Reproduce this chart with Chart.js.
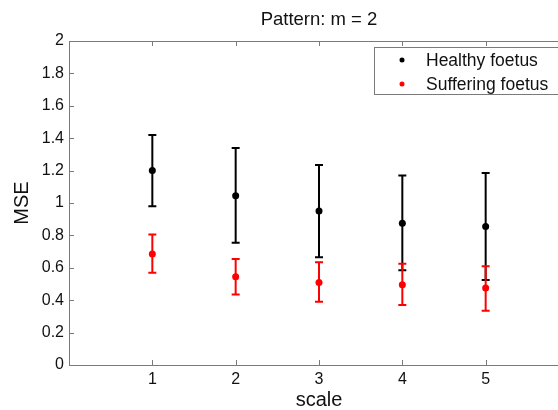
<!DOCTYPE html>
<html>
<head>
<meta charset="utf-8">
<script src="https://cdn.jsdelivr.net/npm/chart.js@4/dist/chart.umd.min.js"></script>
<style>
	html, body { margin: 0; padding: 0; background: #fff; overflow: hidden; }
	.wrap { width: 640px; height: 410px; }
</style>
</head>
<body>
<div class="wrap"><canvas id="mseChart" width="640" height="410"></canvas></div>
<script>
var scales = [1, 2, 3, 4, 5];
var xTicks = [1, 2, 3, 4, 5, 6];

var healthyMean = [1.20, 1.045, 0.95, 0.875, 0.855];
var healthyLow  = [0.98, 0.755, 0.665, 0.585, 0.525];
var healthyHigh = [1.42, 1.34, 1.235, 1.17, 1.185];

var sufferingMean = [0.685, 0.545, 0.51, 0.495, 0.475];
var sufferingLow  = [0.57, 0.435, 0.39, 0.37, 0.335];
var sufferingHigh = [0.805, 0.655, 0.635, 0.625, 0.61];

var axisColor = '#7a7a7a';
var textColor = '#111';
var fontFamily = '"Liberation Sans", Arial, Helvetica, sans-serif';

function points(means) {
	return scales.map(function(s, i) { return { x: s, y: means[i] }; });
}

// error bars go under each dataset's markers
var errorBars = {
	id: 'errorBars',
	beforeDatasetDraw: function(chart, args) {
		var ds = chart.data.datasets[args.index];
		var xs = chart.scales.x, ys = chart.scales.y;
		var ctx = chart.ctx;
		ctx.save();
		ctx.strokeStyle = ds.borderColor;
		ctx.lineWidth = 2;
		for (var i = 0; i < scales.length; i++) {
			var px = xs.getPixelForValue(scales[i]);
			var lo = ys.getPixelForValue(ds.low[i]);
			var hi = ys.getPixelForValue(ds.high[i]);
			ctx.beginPath();
			ctx.moveTo(px, lo); ctx.lineTo(px, hi);
			ctx.moveTo(px - 4, lo); ctx.lineTo(px + 4, lo);
			ctx.moveTo(px - 4, hi); ctx.lineTo(px + 4, hi);
			ctx.stroke();
		}
		ctx.restore();
	}
};

// matlab style box: top line plus ticks pointing inwards
var matlabBox = {
	id: 'matlabBox',
	afterDraw: function(chart) {
		var a = chart.chartArea, ctx = chart.ctx;
		var xs = chart.scales.x, ys = chart.scales.y;
		ctx.save();
		ctx.strokeStyle = axisColor;
		ctx.lineWidth = 1;
		ctx.beginPath();
		ctx.moveTo(a.left, a.top + 0.5); ctx.lineTo(a.right, a.top + 0.5);
		xs.ticks.forEach(function(t) {
			var px = Math.round(xs.getPixelForValue(t.value)) + 0.5;
			ctx.moveTo(px, a.bottom); ctx.lineTo(px, a.bottom - 5);
			ctx.moveTo(px, a.top); ctx.lineTo(px, a.top + 5);
		});
		ys.ticks.forEach(function(t) {
			var py = Math.round(ys.getPixelForValue(t.value)) + 0.5;
			ctx.moveTo(a.left, py); ctx.lineTo(a.left + 5, py);
		});
		ctx.stroke();

		// legend box inside the axes, top right
		var bx = 374, by = 47, bw = 250, bh = 47;
		ctx.fillStyle = '#fff';
		ctx.fillRect(bx, by, bw, bh);
		ctx.strokeRect(bx + 0.5, by + 0.5, bw, bh);
		ctx.font = '17.5px ' + fontFamily;
		ctx.textBaseline = 'middle';
		chart.data.datasets.forEach(function(ds, i) {
			var ly = 60 + i * 24;
			ctx.fillStyle = ds.backgroundColor;
			ctx.beginPath();
			ctx.arc(402, ly, 2.5, 0, Math.PI * 2);
			ctx.fill();
			ctx.fillStyle = textColor;
			ctx.fillText(ds.label, 426, ly + 1);
		});
		ctx.restore();
	}
};

var ctx = document.getElementById('mseChart').getContext('2d');
var chart = new Chart(ctx, {
	type: 'scatter',
	data: {
		datasets: [{
			label: 'Healthy foetus',
			data: points(healthyMean),
			low: healthyLow,
			high: healthyHigh,
			backgroundColor: '#000',
			borderColor: '#000',
			pointRadius: 3.5,
			pointBorderWidth: 0,
			order: 1
		}, {
			label: 'Suffering foetus',
			data: points(sufferingMean),
			low: sufferingLow,
			high: sufferingHigh,
			backgroundColor: '#ff0000',
			borderColor: '#ff0000',
			pointRadius: 3.5,
			pointBorderWidth: 0,
			order: 0
		}]
	},
	options: {
		responsive: false,
		animation: false,
		layout: { padding: { left: 0, right: 71, top: 0, bottom: 0 } },
		plugins: {
			legend: { display: false },
			tooltip: { enabled: false },
			title: {
				display: true,
				text: 'Pattern: m = 2',
				fullSize: false,
				color: textColor,
				font: { family: fontFamily, size: 18.5, weight: 'normal', lineHeight: 1.2 },
				padding: { top: 9, bottom: 9.8 }
			}
		},
		scales: {
			x: {
				type: 'linear',
				min: 0,
				max: 6,
				afterBuildTicks: function(s) {
					s.ticks = xTicks.map(function(v) { return { value: v }; });
				},
				afterFit: function(s) { s.height = 45; },
				grid: { display: false, drawTicks: false },
				border: { display: true, color: axisColor, width: 1 },
				ticks: {
					padding: 5,
					color: textColor,
					font: { family: fontFamily, size: 16 }
				},
				title: {
					display: true,
					text: 'scale',
					color: textColor,
					font: { family: fontFamily, size: 20, lineHeight: 1 },
					padding: { top: 0, bottom: 0 }
				}
			},
			y: {
				type: 'linear',
				min: 0,
				max: 2,
				afterFit: function(s) { s.width = 69; },
				grid: { display: false, drawTicks: false },
				border: { display: true, color: axisColor, width: 1 },
				ticks: {
					stepSize: 0.2,
					padding: 5,
					color: textColor,
					font: { family: fontFamily, size: 16 },
					callback: function(v) { return String(Number(v.toFixed(1))); }
				},
				title: {
					display: true,
					text: 'MSE',
					color: textColor,
					font: { family: fontFamily, size: 20, lineHeight: 1 },
					padding: { top: 12, bottom: 0 }
				}
			}
		}
	},
	plugins: [errorBars, matlabBox]
});
</script>
</body>
</html>
